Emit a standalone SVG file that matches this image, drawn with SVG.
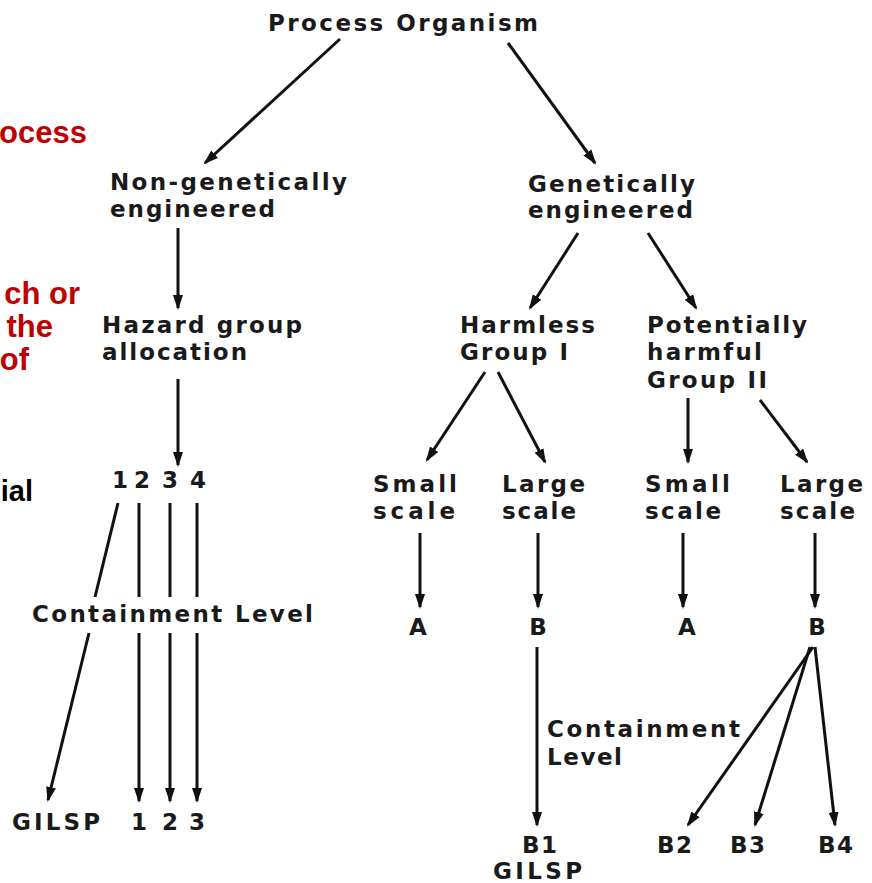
<svg xmlns="http://www.w3.org/2000/svg" width="872" height="883" viewBox="0 0 872 883">
<style>
.t{font-family:"DejaVu Sans","Liberation Sans",Arial,sans-serif;font-weight:bold;font-size:23px;fill:#1a1a1a}
.r{font-family:"Liberation Sans",Arial,sans-serif;font-weight:bold;font-size:31px;fill:#c00000}
.k{font-family:"Liberation Sans",Arial,sans-serif;font-weight:bold;font-size:29px;fill:#000}
.c line{stroke:#111;stroke-width:3;fill:none}
.c .a{marker-end:url(#ah)}
</style>
<defs>
<marker id="ah" markerWidth="15" markerHeight="11" refX="13" refY="5.5" orient="auto" markerUnits="userSpaceOnUse">
<path d="M0,0.5 L15,5.5 L0,10.5 Z" fill="#111"/>
</marker>
</defs>
<rect width="872" height="883" fill="#fff"/>

<g id="side-text">
<text class="r" x="87" y="143" text-anchor="end">ocess</text>
<text class="r" x="80" y="304" text-anchor="end">ch or</text>
<text class="r" x="53" y="337" text-anchor="end">the</text>
<text class="r" x="29" y="370" text-anchor="end">of</text>
<text class="k" x="33" y="501" text-anchor="end">ial</text>
</g>

<g id="n-process"><text class="t" x="268" y="31" textLength="270" lengthAdjust="spacing">Process Organism</text></g>
<g id="n-nongen"><text class="t" x="110" y="190" textLength="237" lengthAdjust="spacing">Non-genetically</text><text class="t" x="110" y="217" textLength="165" lengthAdjust="spacing">engineered</text></g>
<g id="n-gen"><text class="t" x="528" y="192" textLength="167" lengthAdjust="spacing">Genetically</text><text class="t" x="528" y="218" textLength="165" lengthAdjust="spacing">engineered</text></g>
<g id="n-hazard"><text class="t" x="102" y="333" textLength="200" lengthAdjust="spacing">Hazard group</text><text class="t" x="102" y="360" textLength="145" lengthAdjust="spacing">allocation</text></g>
<g id="n-harmless"><text class="t" x="460" y="333" textLength="135" lengthAdjust="spacing">Harmless</text><text class="t" x="460" y="360" textLength="108" lengthAdjust="spacing">Group I</text></g>
<g id="n-potential"><text class="t" x="647" y="333" textLength="160" lengthAdjust="spacing">Potentially</text><text class="t" x="647" y="360" textLength="115" lengthAdjust="spacing">harmful</text><text class="t" x="647" y="388" textLength="120" lengthAdjust="spacing">Group II</text></g>
<g id="n-groups" text-anchor="middle"><text class="t" x="120" y="488">1</text><text class="t" x="142" y="488">2</text><text class="t" x="170" y="488">3</text><text class="t" x="198" y="488">4</text></g>
<g id="n-small1"><text class="t" x="373" y="492" textLength="84" lengthAdjust="spacing">Small</text><text class="t" x="373" y="519" textLength="82" lengthAdjust="spacing">scale</text></g>
<g id="n-large1"><text class="t" x="502" y="492" textLength="83" lengthAdjust="spacing">Large</text><text class="t" x="502" y="519" textLength="74" lengthAdjust="spacing">scale</text></g>
<g id="n-small2"><text class="t" x="645" y="492" textLength="85" lengthAdjust="spacing">Small</text><text class="t" x="645" y="519" textLength="76" lengthAdjust="spacing">scale</text></g>
<g id="n-large2"><text class="t" x="780" y="492" textLength="83" lengthAdjust="spacing">Large</text><text class="t" x="780" y="519" textLength="75" lengthAdjust="spacing">scale</text></g>
<g id="n-cl1"><text class="t" x="32" y="622" textLength="281" lengthAdjust="spacing">Containment Level</text></g>
<g id="n-a1"><text class="t" x="418" y="635" text-anchor="middle">A</text></g>
<g id="n-b1"><text class="t" x="538" y="635" text-anchor="middle">B</text></g>
<g id="n-a2"><text class="t" x="687" y="635" text-anchor="middle">A</text></g>
<g id="n-b2"><text class="t" x="817" y="635" text-anchor="middle">B</text></g>
<g id="n-cl2"><text class="t" x="547" y="737" textLength="193" lengthAdjust="spacing">Containment</text><text class="t" x="547" y="765" textLength="75" lengthAdjust="spacing">Level</text></g>
<g id="n-gilsp1"><text class="t" x="12" y="830" textLength="88" lengthAdjust="spacing">GILSP</text></g>
<g id="n-levels" text-anchor="middle"><text class="t" x="139" y="830">1</text><text class="t" x="170" y="830">2</text><text class="t" x="197" y="830">3</text></g>
<g id="n-B1"><text class="t" x="522" y="853" textLength="35" lengthAdjust="spacing">B1</text><text class="t" x="493" y="879" textLength="89" lengthAdjust="spacing">GILSP</text></g>
<g id="n-B2"><text class="t" x="657" y="853" textLength="35" lengthAdjust="spacing">B2</text></g>
<g id="n-B3"><text class="t" x="730" y="853" textLength="35" lengthAdjust="spacing">B3</text></g>
<g id="n-B4"><text class="t" x="818" y="853" textLength="35" lengthAdjust="spacing">B4</text></g>

<g id="connectors" class="c">
<line class="a" x1="340" y1="39" x2="205" y2="163"/>
<line class="a" x1="508" y1="43" x2="595" y2="163"/>
<line class="a" x1="178" y1="228" x2="178" y2="308"/>
<line class="a" x1="178" y1="379" x2="178" y2="465"/>
<line class="a" x1="578" y1="233" x2="530" y2="308"/>
<line class="a" x1="648" y1="233" x2="696" y2="308"/>
<line class="a" x1="485" y1="372" x2="427" y2="460"/>
<line class="a" x1="498" y1="372" x2="545" y2="462"/>
<line class="a" x1="688" y1="398" x2="688" y2="462"/>
<line class="a" x1="760" y1="400" x2="807" y2="462"/>
<line class="a" x1="420" y1="533" x2="420" y2="607"/>
<line class="a" x1="538" y1="533" x2="538" y2="607"/>
<line class="a" x1="683" y1="533" x2="683" y2="607"/>
<line class="a" x1="815" y1="533" x2="815" y2="607"/>
<line class="a" x1="537" y1="647" x2="537" y2="825"/>
<line class="a" x1="813" y1="647" x2="688" y2="825"/>
<line class="a" x1="810" y1="647" x2="755" y2="825"/>
<line class="a" x1="815" y1="647" x2="835" y2="825"/>
<line x1="118" y1="503" x2="95" y2="597"/>
<line class="a" x1="89" y1="633" x2="48" y2="800"/>
<line x1="139" y1="503" x2="139" y2="597"/>
<line class="a" x1="139" y1="633" x2="139" y2="801"/>
<line x1="170" y1="503" x2="170" y2="597"/>
<line class="a" x1="170" y1="633" x2="170" y2="801"/>
<line x1="197" y1="503" x2="197" y2="597"/>
<line class="a" x1="197" y1="633" x2="197" y2="801"/>
</g>
</svg>
